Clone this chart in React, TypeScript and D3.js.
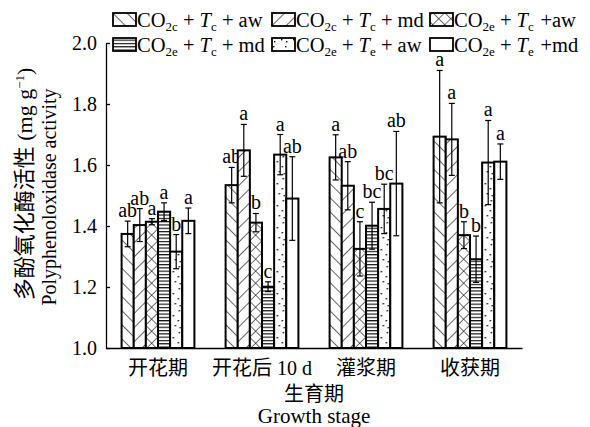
import React, { useEffect, useRef } from 'react'
import * as d3 from 'd3'

const stages = ['开花期', '开花后 10 d', '灌浆期', '收获期']

// legend label parts, one entry per treatment
const co2Sub = ['2c', '2c', '2e', '2e', '2e', '2e']
const tempSub = ['c', 'c', 'c', 'c', 'e', 'e']
const waterText = [' + aw', ' + md', ' +aw', ' + md', ' + aw', ' +md']

// means per stage, one value per treatment
const means = [
    [1.374, 1.403, 1.414, 1.447, 1.316, 1.417],
    [1.534, 1.648, 1.411, 1.201, 1.634, 1.490],
    [1.625, 1.532, 1.325, 1.401, 1.456, 1.539],
    [1.693, 1.684, 1.370, 1.291, 1.608, 1.611],
]
const errors = [
    [0.042, 0.054, 0.010, 0.029, 0.056, 0.042],
    [0.058, 0.085, 0.030, 0.016, 0.066, 0.137],
    [0.074, 0.079, 0.089, 0.077, 0.081, 0.171],
    [0.217, 0.118, 0.044, 0.076, 0.138, 0.058],
]
const letters = [
    ['ab', 'ab', 'a', 'a', 'b', 'a'],
    ['ab', 'a', 'b', 'c', 'a', 'ab'],
    ['a', 'ab', 'c', 'bc', 'bc', 'ab'],
    ['a', 'a', 'b', 'b', 'a', 'a'],
]
const yTicks = [1.0, 1.2, 1.4, 1.6, 1.8, 2.0]

const serif = 'Liberation Serif, DejaVu Serif, Noto Sans CJK SC, serif'
const width = 590
const height = 427
const margin = { top: 43, right: 68, bottom: 79, left: 106 }

const Patterns = () => (
    <defs>
        <pattern id="p0" width="10" height="10" patternUnits="userSpaceOnUse" patternTransform="rotate(-45)">
            <rect width="10" height="10" fill="white" />
            <line x1="0" y1="0" x2="0" y2="10" stroke="black" strokeWidth="1.2" />
        </pattern>
        <pattern id="p1" width="10" height="10" patternUnits="userSpaceOnUse" patternTransform="rotate(45)">
            <rect width="10" height="10" fill="white" />
            <line x1="0" y1="0" x2="0" y2="10" stroke="black" strokeWidth="1.2" />
        </pattern>
        <pattern id="p2" width="8.5" height="8.5" patternUnits="userSpaceOnUse" patternTransform="rotate(45)">
            <rect width="8.5" height="8.5" fill="white" />
            <line x1="0" y1="0" x2="0" y2="8.5" stroke="black" strokeWidth="1.1" />
            <line x1="0" y1="0" x2="8.5" y2="0" stroke="black" strokeWidth="1.1" />
        </pattern>
        <pattern id="p3" width="6" height="3.3" patternUnits="userSpaceOnUse">
            <rect width="6" height="3.3" fill="white" />
            <line x1="0" y1="0.6" x2="6" y2="0.6" stroke="black" strokeWidth="1.1" />
        </pattern>
        <pattern id="p4" width="12" height="22" patternUnits="userSpaceOnUse">
            <rect width="12" height="22" fill="white" />
            <rect x="9" y="2" width="1.4" height="1.4" fill="black" />
            <rect x="3" y="7" width="1.4" height="1.4" fill="black" />
            <rect x="8" y="12" width="1.4" height="1.4" fill="black" />
            <rect x="5" y="17" width="1.4" height="1.4" fill="black" />
            <rect x="10" y="19" width="1.4" height="1.4" fill="black" />
        </pattern>
        <pattern id="p5" width="4" height="4" patternUnits="userSpaceOnUse">
            <rect width="4" height="4" fill="white" />
        </pattern>
    </defs>
)

const LegendLabel = ({ i, x, y }) => (
    <text x={x} y={y} style={{ fontFamily: serif, fontSize: 20.5 }}>
        CO<tspan style={{ fontSize: 13 }} dy={4}>{co2Sub[i]}</tspan>
        <tspan dy={-4}>{' + '}</tspan>
        <tspan fontStyle="italic">T</tspan>
        <tspan style={{ fontSize: 13 }} dy={4}>{tempSub[i]}</tspan>
        <tspan dy={-4} dx={waterText[i].startsWith(' + ') ? 0 : 1.5}>{waterText[i]}</tspan>
    </text>
)

export default function App() {
    const xAxisRef = useRef(null)
    const yAxisRef = useRef(null)

    const x0 = d3.scaleBand().domain(stages).range([margin.left, width - margin.right])
        .paddingInner(0.3).paddingOuter(0.15)
    const x1 = d3.scaleBand().domain(d3.range(6)).range([0, x0.bandwidth()])
    const y = d3.scaleLinear().domain([1, 2]).range([height - margin.bottom, margin.top])

    useEffect(() => {
        const gy = d3.select(yAxisRef.current)
        gy.call(d3.axisLeft(y).tickValues(yTicks).tickFormat(d3.format('.1f'))
            .tickSizeInner(-4).tickSizeOuter(0).tickPadding(9))
        gy.attr('font-family', null).attr('font-size', null)
        gy.selectAll('text').style('font-size', '20px').style('font-family', serif).attr('fill', 'black')
        gy.selectAll('line,path').attr('stroke', 'black').attr('stroke-width', 1.3)

        const gx = d3.select(xAxisRef.current)
        gx.call(d3.axisBottom(x0).tickSizeInner(0).tickSizeOuter(0).tickPadding(13))
        gx.attr('font-family', null).attr('font-size', null)
        gx.selectAll('text').style('font-size', '20px').style('font-family', serif).attr('fill', 'black')
        gx.select('.domain').attr('stroke', 'black').attr('stroke-width', 1.5)
    }, [])

    const legendCols = [113, 272, 430]
    const legendRows = [13, 38]
    const txt = { fontFamily: serif, fontSize: 20 }

    return (
        <svg width={width} height={height} style={{ position: 'absolute', left: 0, top: 0, background: 'white' }}>
            <Patterns />
            {stages.map((s, si) => (
                <g key={s} transform={`translate(${x0(s)},0)`}>
                    {means[si].map((m, ti) => {
                        const bx = x1(ti)
                        const bw = x1.bandwidth()
                        const cx = bx + bw / 2
                        const e = errors[si][ti]
                        return (
                            <g key={ti}>
                                <rect x={bx} y={y(m)} width={bw} height={y(1) - y(m)}
                                    fill={`url(#p${ti})`} stroke="black" strokeWidth={2} />
                                <line x1={cx} x2={cx} y1={y(m + e)} y2={y(m - e)} stroke="black" strokeWidth={1.2} />
                                <line x1={cx - 3} x2={cx + 3} y1={y(m + e)} y2={y(m + e)} stroke="black" strokeWidth={1.2} />
                                <line x1={cx - 3} x2={cx + 3} y1={y(m - e)} y2={y(m - e)} stroke="black" strokeWidth={1.2} />
                                <text x={cx} y={y(m + e) - 4} textAnchor="middle" style={txt}>
                                    {letters[si][ti]}
                                </text>
                            </g>
                        )
                    })}
                </g>
            ))}
            <g ref={yAxisRef} transform={`translate(${margin.left},0)`} />
            <g ref={xAxisRef} transform={`translate(0,${height - margin.bottom})`} />

            {d3.range(6).map(i => {
                const lx = legendCols[i % 3]
                const ly = legendRows[Math.floor(i / 3)]
                return (
                    <g key={i}>
                        <rect x={lx} y={ly} width={23} height={13} fill={`url(#p${i})`} stroke="black" strokeWidth={1.8} />
                        <LegendLabel i={i} x={lx + 24} y={ly + 14} />
                    </g>
                )
            })}

            <text transform="translate(32,184) rotate(-90)" textAnchor="middle" style={{ fontFamily: serif, fontSize: 22 }}>
                多酚氧化酶活性 (mg g<tspan style={{ fontSize: 13 }} dy={-8}>−1</tspan><tspan dy={8}>)</tspan>
            </text>
            <text transform="translate(56,197) rotate(-90)" textAnchor="middle" style={txt}>
                Polyphenoloxidase activity
            </text>
            <text x={(margin.left + width - margin.right) / 2} y={401} textAnchor="middle" style={txt}>
                生育期
            </text>
            <text x={(margin.left + width - margin.right) / 2} y={423} textAnchor="middle" style={{ fontFamily: serif, fontSize: 21 }}>
                Growth stage
            </text>
        </svg>
    )
}
